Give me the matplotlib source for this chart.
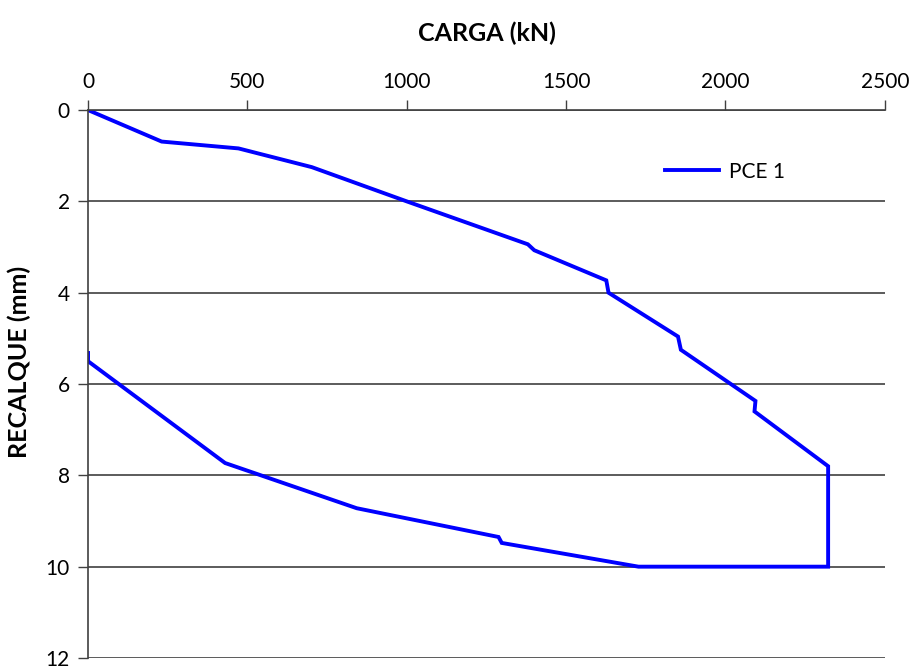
import matplotlib.pyplot as plt

# load-settlement curve (load in kN, settlement in mm)
carga = [0, 231, 472, 702, 1000, 1380, 1400, 1626, 1633, 1851, 1860, 2094, 2091,
         2322, 2322, 1727, 1298, 1288, 843, 430, 0, 0]
recalque = [0, 0.69, 0.84, 1.25, 2.0, 2.94, 3.07, 3.73, 4.0, 4.96, 5.25, 6.37, 6.6,
            7.8, 10.0, 10.0, 9.48, 9.35, 8.72, 7.73, 5.5, 5.32]
x_ticks = [0, 500, 1000, 1500, 2000, 2500]
y_ticks = [0, 2, 4, 6, 8, 10, 12]

plt.rcParams["font.family"] = ["Lato", "DejaVu Sans"]

fig = plt.figure(figsize=(9.18, 6.67), dpi=100)
ax = fig.add_axes([0.0959, 0.0135, 0.868, 0.8215])

ax.plot(carga, recalque, color="#0000ff", linewidth=2.8, label="PCE 1",
        solid_joinstyle="miter")

ax.set_xlim(0, 2500)
ax.set_ylim(12, 0)
ax.set_xticks(x_ticks)
ax.set_yticks(y_ticks)
ax.xaxis.tick_top()
ax.xaxis.set_label_position("top")
ax.tick_params(axis="x", direction="out", length=7, width=1, color="#404040",
               labelsize=15, pad=6)
ax.tick_params(axis="y", direction="out", length=7, width=1, color="#404040",
               labelsize=15, pad=6)

ax.grid(True, axis="y", color="#404040", linewidth=1.2)
ax.set_axisbelow(True)
for side in ["right", "bottom"]:
    ax.spines[side].set_visible(False)
for side in ["left", "top"]:
    ax.spines[side].set_color("#404040")
    ax.spines[side].set_linewidth(1.2)

ax.set_xlabel("CARGA (kN)", fontsize=18, fontweight="bold", labelpad=22)
ax.set_ylabel("RECALQUE (mm)", fontsize=18, fontweight="bold")
ax.yaxis.set_label_coords(-0.072, 0.54)

ax.legend(loc="upper left", bbox_to_anchor=(0.70, 0.94), frameon=False,
          fontsize=15, handlelength=2.6, handletextpad=0.5)

fig.savefig("out.png", dpi=100)
